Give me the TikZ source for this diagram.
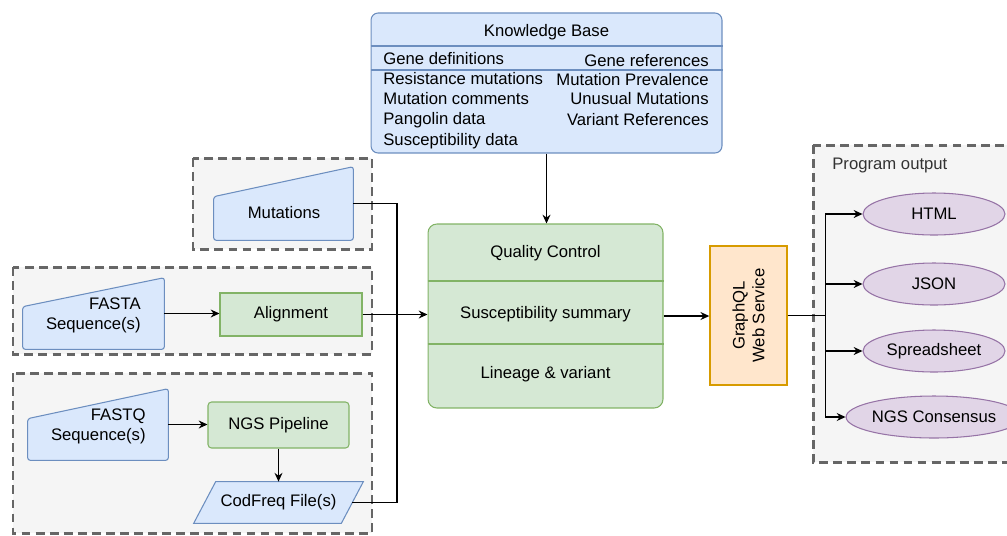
\documentclass[tikz,border=0pt]{standalone}
\usepackage{fontspec}
\setmainfont{Liberation Sans}
\usetikzlibrary{arrows.meta, positioning, calc, shapes.geometric}

\definecolor{kbfill}{HTML}{DAE8FC}
\definecolor{kbdraw}{HTML}{6C8EBF}
\definecolor{gfill}{HTML}{D5E8D4}
\definecolor{gdraw}{HTML}{82B366}
\definecolor{ofill}{HTML}{FFE6CC}
\definecolor{odraw}{HTML}{D79B00}
\definecolor{pfill}{HTML}{E1D5E7}
\definecolor{pdraw}{HTML}{9673A6}
\definecolor{grpfill}{HTML}{F5F5F5}
\definecolor{grpdraw}{HTML}{666666}
\definecolor{lbltext}{HTML}{333333}

\pgfdeclarelayer{groups}
\pgfdeclarelayer{shapes}
\pgfsetlayers{groups,shapes,main}

\begin{document}
\begin{tikzpicture}[x=0.02cm, y=-0.02cm,
                font=\fontsize{9.5}{11.3}\selectfont,
                grpbox/.style={draw=grpdraw, fill=grpfill, line width=1.7pt, dash pattern=on 5pt off 3pt},
                kbbox/.style={draw=kbdraw, fill=kbfill, line width=0.6pt, rounded corners=4pt},
                kbitem/.style={inner sep=0pt, text height=6.8pt, text depth=2pt},
                inshape/.style={draw=kbdraw, fill=kbfill, line width=0.6pt, rounded corners=1.5pt},
                hidden/.style={inner sep=0pt},
                process/.style={draw=gdraw, fill=gfill, line width=0.6pt, minimum width=2.84cm, inner sep=0pt},
                outnode/.style={ellipse, draw=pdraw, fill=pfill, line width=0.6pt,
                               minimum width=2.84cm, minimum height=0.84cm, inner sep=0pt},
                link/.style={line width=0.8pt},
                flow/.style={link, -{Stealth[length=5pt, width=4.5pt]}}]

                \useasboundingbox (0,0) rectangle (1007,535);

                % dashed groups behind everything
                \begin{pgfonlayer}{groups}
                    \draw[grpbox] (193,158) rectangle (372,249);
                    \draw[grpbox] (13,267) rectangle (372,354);
                    \draw[grpbox] (13,373) rectangle (372,533);
                    \draw[grpbox] (813,145) rectangle (1020,462);
                \end{pgfonlayer}

                % Knowledge base with its two columns
                \node[kbbox, minimum width=7.02cm, minimum height=2.8cm] (kb) at (546.5,83) {};
                \node (kbtitle) at (546.5,32) {Knowledge Base};
                \draw[kbdraw, line width=0.6pt] (kb.west |- 0,46) -- (kb.east |- 0,46);
                \draw[kbdraw, line width=0.6pt] (kb.west |- 0,70) -- (kb.east |- 0,70);
                \node[kbitem, anchor=west] (gdef) at (383,60) {Gene definitions};
                \node[kbitem, anchor=west] (resmut) at (383,80) {Resistance mutations};
                \node[kbitem, anchor=west] (mutcom) at (383,100) {Mutation comments};
                \node[kbitem, anchor=west] (pango) at (383,120) {Pangolin data};
                \node[kbitem, anchor=west] (suscdata) at (383,141) {Susceptibility data};
                \node[kbitem, anchor=east] (gref) at (709,62) {Gene references};
                \node[kbitem, anchor=east] (mutprev) at (709,81) {Mutation Prevalence};
                \node[kbitem, anchor=east] (unusual) at (709,100) {Unusual Mutations};
                \node[kbitem, anchor=east] (varref) at (709,121) {Variant References};

                % inputs
                \node[hidden, minimum width=2.78cm, minimum height=1.46cm] (mut) at (283.5,203.5) {};
                \node (mutlabel) at (284,213) {Mutations};

                \node[hidden, minimum width=2.82cm, minimum height=1.42cm] (fasta) at (93.5,313.5) {};
                \node[hidden, align=right, anchor=east] (fastalabel) at (141,315.5) {FASTA\\Sequence(s)};
                \node[process, minimum height=0.86cm] (align) at (291,314.5) {Alignment};

                \node[hidden, minimum width=2.8cm, minimum height=1.42cm] (fastq) at (98,424.5) {};
                \node[hidden, align=right, anchor=east] (fastqlabel) at (146,426) {FASTQ\\Sequence(s)};
                \node[process, rounded corners=2pt, minimum width=2.82cm, minimum height=0.92cm] (ngs)
                    at (278.5,425) {NGS Pipeline};
                \node[hidden, minimum width=2.94cm, minimum height=0.82cm] (cod) at (278.5,502.5) {CodFreq File(s)};

                \begin{pgfonlayer}{shapes}
                    \draw[inshape] (mut.south west) -- (mut.south east) -- (mut.north east)
                        -- ($(mut.north west)+(0,30)$) -- cycle;
                    \draw[inshape] (fasta.south west) -- (fasta.south east) -- (fasta.north east)
                        -- ($(fasta.north west)+(0,29)$) -- cycle;
                    \draw[inshape] (fastq.south west) -- (fastq.south east) -- (fastq.north east)
                        -- ($(fastq.north west)+(0,30)$) -- cycle;
                    \draw[inshape, rounded corners=0pt] ($(cod.north west)+(11,0)$) -- ($(cod.north east)+(11,0)$)
                        -- ($(cod.south east)+(-11,0)$) -- ($(cod.south west)+(-11,0)$) -- cycle;
                \end{pgfonlayer}

                % core analysis box
                \node[process, rounded corners=5pt, minimum width=4.7cm, minimum height=3.68cm] (core) at (545.5,316) {};
                \draw[gdraw, line width=0.6pt] (core.west |- 0,281) -- (core.east |- 0,281);
                \draw[gdraw, line width=0.6pt] (core.west |- 0,344) -- (core.east |- 0,344);
                \node (qc) at (545.5,253) {Quality Control};
                \node (susc) at (545.5,314) {Susceptibility summary};
                \node (lin) at (545.5,374) {Lineage \& variant};

                % web service
                \node[draw=odraw, fill=ofill, line width=0.8pt, minimum width=1.54cm, minimum height=2.78cm] (gql)
                    at (748.5,315.5) {};
                \node[rotate=90, align=center] (gqllabel) at (gql.center) {GraphQL\\Web Service};

                % outputs
                \node[hidden, anchor=west, text=lbltext] (outtitle) at (832,165) {Program output};
                \node[outnode] (html) at (934,214) {HTML};
                \node[outnode] (json) at (934,284) {JSON};
                \node[outnode] (sheet) at (934,351) {Spreadsheet};
                \node[outnode] (cons) at (934,417) {NGS Consensus};

                % connections
                \coordinate (join) at (397,315);
                \draw[link] (mut.east) -| (join);
                \draw[link] (cod.east) -| (join);
                \draw[flow] (fasta.east) -- (fasta.east -| align.west);
                \draw[flow] (fastq.east) -- (fastq.east -| ngs.west);
                \draw[flow] (ngs.south) -- (ngs.south |- cod.north);
                \draw[flow] (align.east) -- (align.east -| core.west);
                \draw[flow] (kb.south) -- (kb.south |- core.north);
                \draw[flow] (core.east) -- (core.east -| gql.west);
                \coordinate (split) at ($(gql.east)+(38,0)$);
                \draw[link] (gql.east) -- (split);
                \foreach \out in {html, json, sheet, cons}
                    \draw[flow] (split) |- (\out.west);
            \end{tikzpicture}
\end{document}
